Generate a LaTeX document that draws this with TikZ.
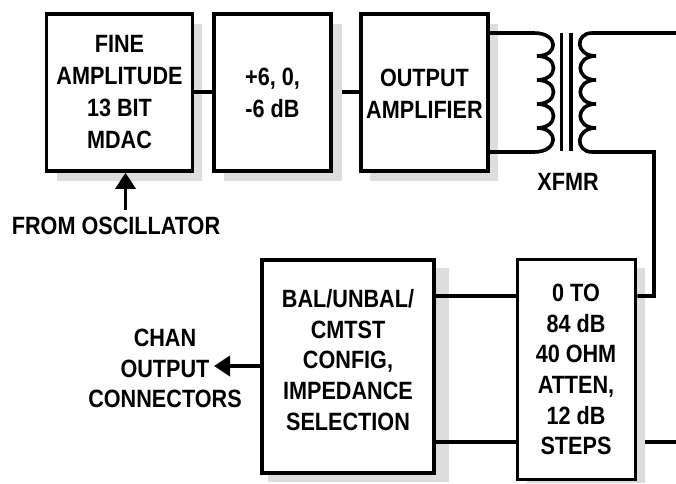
\documentclass[tikz,border=0pt]{standalone}
\usepackage{fontspec}
\setmainfont{Liberation Sans}[BoldFeatures={FakeStretch=0.865}]
\usetikzlibrary{arrows.meta}
\definecolor{boxshade}{RGB}{221,221,221}
\begin{document}
\begin{tikzpicture}[x=1pt,y=-1pt,
 blk/.style={draw,line width=3.6pt,fill=white,inner sep=0pt},
 wire/.style={line width=3.6pt},
 shd/.style={fill=boxshade,draw=none},
 tip/.style={-{Stealth[length=16pt,width=20pt,inset=0pt]}},
 lbl/.style={font=\bfseries\fontsize{25}{32}\selectfont,align=center,inner sep=0pt},
 lbs/.style={font=\bfseries\fontsize{25}{30.7}\selectfont,align=center,inner sep=0pt}]
\useasboundingbox (0,0) rectangle (676,483);
\coordinate (bs) at (342,92);
\coordinate (es) at (645,442);
\path[shd] (57,24) rectangle (202,181);
\path[shd] (224,24) rectangle (342,181);
\path[shd] (370,24) rectangle (498,181);
\path[shd] (268,268) rectangle (449,482);
\path[shd] (527,268) rectangle (645,483);
\node[blk,minimum width=146pt,minimum height=157pt] (a) at (119.5,92.5) {};
\node[blk,minimum width=117.5pt,minimum height=157pt] (b) at (272.5,92.5) {};
\node[blk,minimum width=127pt,minimum height=157pt] (c) at (424.5,92.5) {};
\node[lbl] at (119.5,92) {FINE\\AMPLITUDE\\13 BIT\\MDAC};
\node[lbl] at (272.5,93) {+6, 0,\\-6 dB};
\node[lbl] at (424.5,94) {OUTPUT\\AMPLIFIER};
\node[blk,minimum width=172pt,minimum height=213pt] (d) at (348,366.5) {};
\node[lbs] at (348,360) {BAL/UNBAL/\\CMTST\\CONFIG,\\IMPEDANCE\\SELECTION};
\node[blk,minimum width=118pt,minimum height=220pt] (e) at (576.5,369.5) {};
\node[lbs] at (576,369.5) {0 TO\\84 dB\\40 OHM\\ATTEN,\\12 dB\\STEPS};
\node[lbl] (x) at (568,182) {XFMR};
\node[lbl] (fo) at (116,226) {FROM OSCILLATOR};
\node[lbs] (ch) at (165,368.5) {CHAN\\OUTPUT\\CONNECTORS};
\draw[wire] (a.east|-0,92) -- (b.west|-0,92);
\draw[wire] (bs) -- (c.west|-bs);
\draw[wire,tip] (125.5,210) -- (a.south-|125.5,0);
\draw[wire] (d.east|-0,296) -- (e.west|-0,296);
\draw[wire] (d.east|-0,442) -- (e.west|-0,442);
\draw[wire] (es) -- (676,442);
\draw[wire] (e.east|-0,296) -- (654,296) -- (654,152) -- (592,152)
 .. controls (575,152) and (575,128) .. (596,128)
 .. controls (575,128) and (575,104) .. (596,104)
 .. controls (575,104) and (575,80) .. (596,80)
 .. controls (575,80) and (575,56) .. (596,56)
 .. controls (575,56) and (575,33) .. (592,33) -- (676,33);
\draw[wire] (c.east|-0,33) -- (534,33)
 .. controls (559,33) and (559,56) .. (537,56)
 .. controls (559,56) and (559,80) .. (537,80)
 .. controls (559,80) and (559,104) .. (537,104)
 .. controls (559,104) and (559,128) .. (537,128)
 .. controls (559,128) and (559,152) .. (534,152) -- (c.east|-0,152);
\draw[wire] (561.5,33) -- (561.5,151);
\draw[wire] (571,33) -- (571,151);
\draw[wire,tip] (d.west|-0,366) -- (214,366);
\end{tikzpicture}
\end{document}
